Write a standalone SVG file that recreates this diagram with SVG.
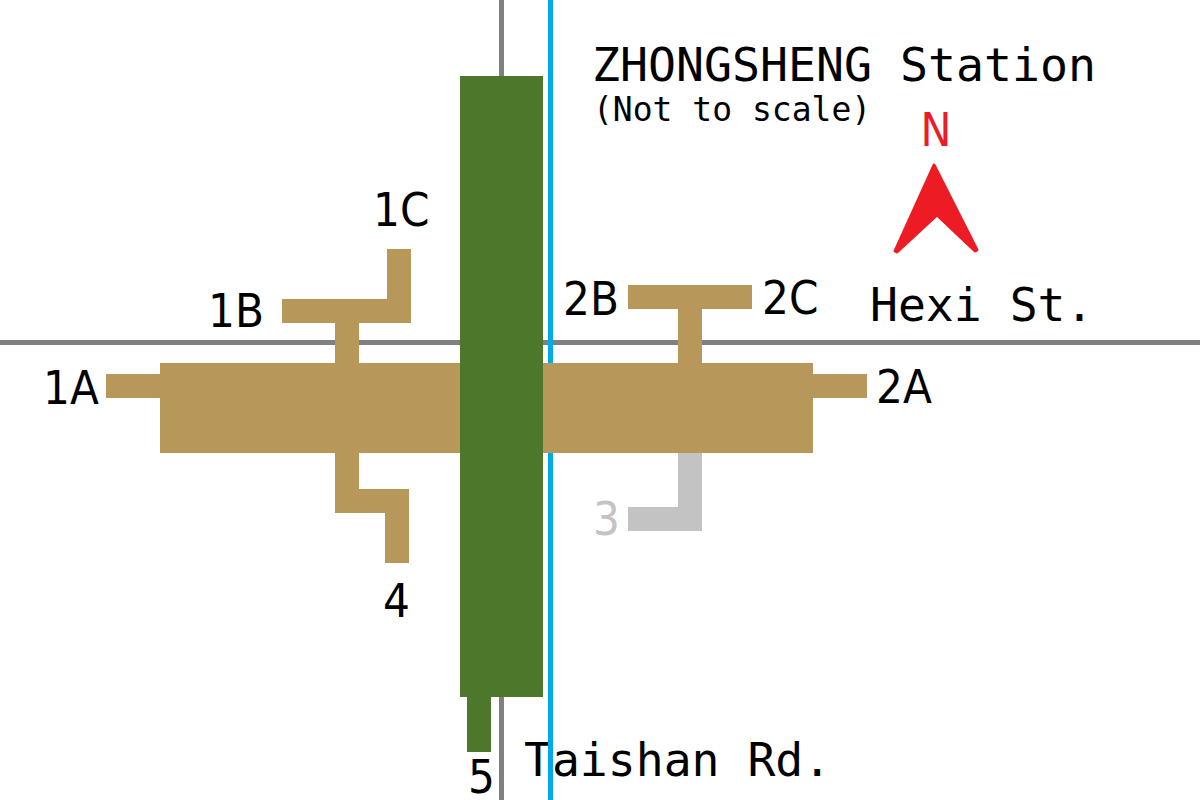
<svg xmlns="http://www.w3.org/2000/svg" width="1200" height="800" viewBox="0 0 1200 800">
<style>
.t{font-family:"DejaVu Sans Mono","Liberation Mono",monospace;fill:#000}
.n{font-family:"DejaVu Sans","Liberation Sans",sans-serif;font-stretch:condensed;font-size:47px;fill:#000}
.b{fill:#b8975a}
.g{fill:#4d772a}
.r{fill:#808080}
</style>
<rect width="1200" height="800" fill="#fff"/>
<g id="roads">
<rect class="r" x="499" y="0" width="5" height="800"/>
<rect class="r" x="0" y="340" width="1200" height="5"/>
<text class="t" x="870" y="321" font-size="46.4">Hexi St.</text>
<text class="t" x="524" y="776" font-size="46.4">Taishan Rd.</text>
<rect x="548" y="0" width="5" height="800" fill="#00a8ec"/>
</g>
<g id="concourse">
<rect class="b" x="160" y="363" width="653" height="90"/>
</g>
<g id="exit-1A"><rect class="b" x="106" y="374" width="54" height="24"/><text class="n" x="43" y="404">1A</text></g>
<g id="exit-2A"><rect class="b" x="813" y="374" width="54" height="24"/><text class="n" x="876" y="403">2A</text></g>
<g id="exit-1BC">
<path class="b" d="M282 299H387V249H411V323H359V363H335V323H282Z"/>
<text class="n" x="208" y="327">1B</text><text class="n" x="373" y="226">1C</text>
</g>
<g id="exit-2BC">
<path class="b" d="M628 285H752V309H702V363H678V309H628Z"/>
<text class="n" x="563" y="315">2B</text><text class="n" x="762" y="314">2C</text>
</g>
<g id="exit-3">
<path d="M678 453H702V531H628V507H678Z" fill="#c3c3c3"/>
<text class="n" x="593" y="535" style="fill:#c3c3c3">3</text>
</g>
<g id="exit-4">
<path class="b" d="M335 453H359V489H409V563H385V513H335Z"/>
<text class="n" x="383" y="617">4</text>
</g>
<g id="platform">
<rect class="g" x="460" y="76" width="83" height="621"/>
</g>
<g id="exit-5">
<rect class="g" x="467" y="697" width="24" height="55"/>
<text class="n" x="468" y="793">5</text>
</g>
<g id="labels">
<text class="t" x="592" y="81" font-size="46.5">ZHONGSHENG Station</text>
<text class="t" x="593" y="121" font-size="33">(Not to scale)</text>
</g>
<g id="north">
<text x="936" y="146" font-family="DejaVu Sans, sans-serif" font-stretch="condensed" font-size="46" text-anchor="middle" fill="#ed1c24">N</text>
<path d="M934 165L977 250L975 251L937 215L897 252L895 251Z" fill="#ed1c24" stroke="#ed1c24" stroke-width="3" stroke-linejoin="round"/>
</g>
</svg>
